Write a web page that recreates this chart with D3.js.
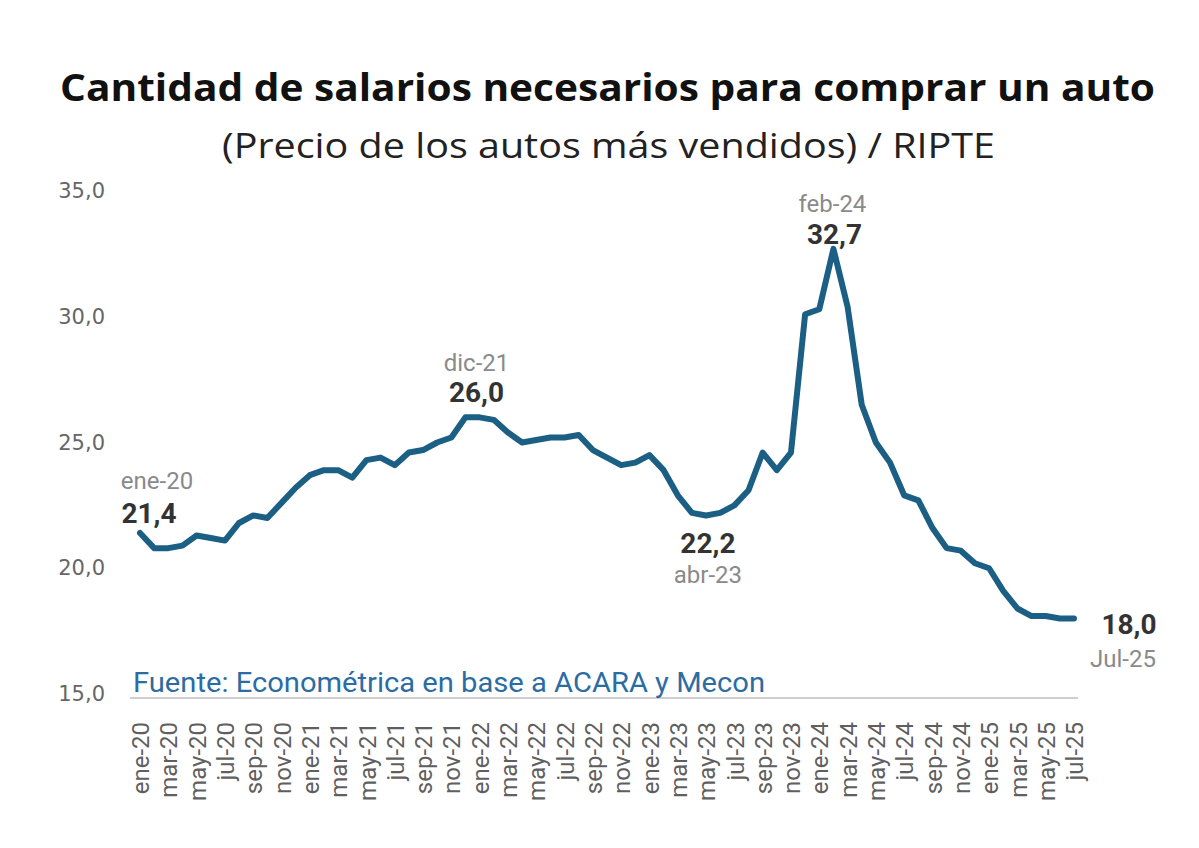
<!DOCTYPE html>
<html>
<head>
<meta charset="utf-8">
<script src="https://cdn.jsdelivr.net/npm/d3@7"></script>
<style>
  body { margin: 0; background: #fff; }
  svg { display: block; }
</style>
</head>
<body>
<script>
// months, one per point
const months = [
  "ene-20","feb-20","mar-20","abr-20","may-20","jun-20","jul-20","ago-20","sep-20","oct-20","nov-20","dic-20",
  "ene-21","feb-21","mar-21","abr-21","may-21","jun-21","jul-21","ago-21","sep-21","oct-21","nov-21","dic-21",
  "ene-22","feb-22","mar-22","abr-22","may-22","jun-22","jul-22","ago-22","sep-22","oct-22","nov-22","dic-22",
  "ene-23","feb-23","mar-23","abr-23","may-23","jun-23","jul-23","ago-23","sep-23","oct-23","nov-23","dic-23",
  "ene-24","feb-24","mar-24","abr-24","may-24","jun-24","jul-24","ago-24","sep-24","oct-24","nov-24","dic-24",
  "ene-25","feb-25","mar-25","abr-25","may-25","jun-25","jul-25"
];

// salarios necesarios
const salarios = [
  21.4, 20.8, 20.8, 20.9, 21.3, 21.2, 21.1, 21.8, 22.1, 22.0, 22.6, 23.2,
  23.7, 23.9, 23.9, 23.6, 24.3, 24.4, 24.1, 24.6, 24.7, 25.0, 25.2, 26.0,
  26.0, 25.9, 25.4, 25.0, 25.1, 25.2, 25.2, 25.3, 24.7, 24.4, 24.1, 24.2,
  24.5, 23.9, 22.9, 22.2, 22.1, 22.2, 22.5, 23.1, 24.6, 23.9, 24.6, 30.1,
  30.3, 32.7, 30.4, 26.5, 25.0, 24.2, 22.9, 22.7, 21.6, 20.8, 20.7, 20.2,
  20.0, 19.1, 18.4, 18.1, 18.1, 18.0, 18.0
];

const yTicks = [15, 20, 25, 30, 35];

// highlighted points (index into the series) and their month captions
const calloutIdx = [0, 23, 39, 49, 66];
const calloutMonth = ["ene-20", "dic-21", "abr-23", "feb-24", "Jul-25"];

const W = 1199, H = 848;
const fmt = v => v.toFixed(1).replace(".", ",");

const svg = d3.select("body").append("svg")
    .attr("width", W)
    .attr("height", H);

const x = d3.scaleLinear()
    .domain([0, months.length - 1])
    .range([140, 1074]);

const y = d3.scaleLinear()
    .domain([15, 35])
    .range([694, 191]);

// titles
svg.append("text")
    .attr("x", 60).attr("y", 101)
    .attr("textLength", 1095)
    .attr("lengthAdjust", "spacingAndGlyphs")
    .style("font-family", "'Open Sans', sans-serif")
    .style("font-weight", "700")
    .style("font-size", "38px")
    .attr("fill", "#111")
    .text("Cantidad de salarios necesarios para comprar un auto");

svg.append("text")
    .attr("x", 222).attr("y", 158)
    .attr("textLength", 773)
    .attr("lengthAdjust", "spacingAndGlyphs")
    .style("font-family", "'Open Sans', sans-serif")
    .style("font-size", "35px")
    .attr("fill", "#222")
    .text("(Precio de los autos más vendidos) / RIPTE");

// y axis, labels only
const yAxis = svg.append("g")
    .attr("transform", "translate(105,0)")
    .call(d3.axisLeft(y).tickValues(yTicks).tickFormat(fmt).tickSize(0).tickPadding(0));
yAxis.select(".domain").remove();
yAxis.selectAll("text")
    .style("font-family", "'DejaVu Sans', sans-serif")
    .style("font-size", "21px")
    .attr("fill", "#666");

// x axis baseline + rotated labels every two months
svg.append("line")
    .attr("x1", 130).attr("x2", 1078)
    .attr("y1", 698).attr("y2", 698)
    .attr("stroke", "#cfcfcf")
    .attr("stroke-width", 2);

const xAxis = svg.append("g")
    .attr("transform", "translate(0,698)")
    .call(d3.axisBottom(x)
        .tickValues(d3.range(0, months.length, 2))
        .tickFormat(i => months[i])
        .tickSize(0));
xAxis.select(".domain").remove();
xAxis.selectAll("text")
    .attr("transform", "rotate(-90)")
    .attr("text-anchor", "end")
    .attr("x", -24)
    .attr("y", 0)
    .attr("dy", "0.36em")
    .style("font-family", "Roboto, sans-serif")
    .style("font-size", "24px")
    .attr("fill", "#5f5f5f");

// source note
svg.append("text")
    .attr("x", 133).attr("y", 692)
    .attr("textLength", 632)
    .attr("lengthAdjust", "spacingAndGlyphs")
    .style("font-family", "Roboto, sans-serif")
    .style("font-size", "27px")
    .attr("fill", "#2b6ca3")
    .text("Fuente: Econométrica en base a ACARA y Mecon");

// the line
const line = d3.line()
    .x((d, i) => x(i))
    .y(d => y(d));

svg.append("path")
    .datum(salarios)
    .attr("d", line)
    .attr("fill", "none")
    .attr("stroke", "#1c5f84")
    .attr("stroke-width", 6)
    .attr("stroke-linejoin", "round")
    .attr("stroke-linecap", "round");

// callouts: offsets of value / month text from the point
const offs = [
    { vx: 9,  vy: -10, mx: 17, my: -44 },
    { vx: 11, vy: -15, mx: 11, my: -46 },
    { vx: 16, vy: 40,  mx: 16, my: 70 },
    { vx: 1,  vy: -5,  mx: -1, my: -37 },
    { vx: 55, vy: 15,  mx: 49, my: 48 }
];

calloutIdx.forEach((i, k) => {
    const px = x(i), py = y(salarios[i]), o = offs[k];
    svg.append("text")
        .attr("x", px + o.mx).attr("y", py + o.my)
        .attr("text-anchor", "middle")
        .style("font-family", "Roboto, sans-serif")
        .style("font-size", "24px")
        .attr("fill", "#8a8a8a")
        .text(calloutMonth[k]);
    svg.append("text")
        .attr("x", px + o.vx).attr("y", py + o.vy)
        .attr("text-anchor", "middle")
        .style("font-family", "Roboto, sans-serif")
        .style("font-weight", "700")
        .style("font-size", "28px")
        .attr("fill", "#333")
        .text(fmt(salarios[i]));
});
</script>
</body>
</html>
